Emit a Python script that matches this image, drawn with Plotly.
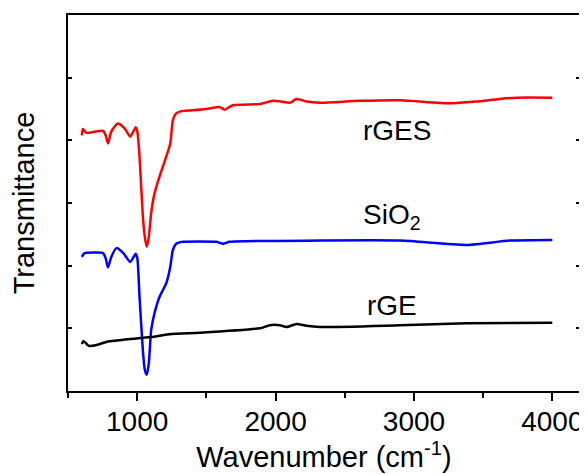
import plotly.graph_objects as go

# Wavenumber (cm^-1) and relative transmittance (offset, arbitrary units)
rges_wn = [600, 608, 632, 700, 753, 772, 789, 813, 861, 909, 950, 989, 1001, 1017, 1041, 1055, 1069,
           1084, 1101, 1125, 1161, 1210, 1239, 1258, 1282, 1331, 1400, 1500, 1597, 1630, 1691, 1886,
           1980, 2040, 2103, 2151, 2223, 2320, 2600, 2900, 3260, 3450, 3620, 3742, 4000]
rges_t = [4.08, 4.18, 4.12, 4.14, 4.15, 4.08, 3.95, 4.14, 4.27, 4.19, 4.06, 4.21, 4.14, 3.74, 2.78, 2.46, 2.30,
          2.46, 2.84, 3.15, 3.42, 3.74, 3.95, 4.32, 4.43, 4.47, 4.48, 4.50, 4.53, 4.49, 4.56, 4.58,
          4.63, 4.62, 4.60, 4.66, 4.62, 4.60, 4.63, 4.64, 4.59, 4.62, 4.66, 4.68, 4.68]

sio2_wn = [600, 620, 700, 753, 772, 789, 813, 850, 900, 950, 989, 1001, 1017, 1041, 1055, 1069, 1084,
           1101, 1125, 1161, 1210, 1239, 1258, 1282, 1331, 1572, 1620, 1668, 2320, 2900, 3380, 3692, 4000]
sio2_t = [2.14, 2.20, 2.21, 2.20, 2.12, 1.97, 2.14, 2.28, 2.20, 2.06, 2.19, 2.12, 1.50, 0.65, 0.34, 0.26, 0.44,
          0.97, 1.24, 1.50, 1.72, 1.98, 2.25, 2.35, 2.38, 2.38, 2.35, 2.38, 2.40, 2.40, 2.33, 2.40, 2.41]

rge_wn = [600, 612, 650, 700, 789, 909, 1101, 1246, 1452, 1886, 1958, 2030, 2080, 2151, 2223, 2320,
          2900, 3380, 4000]
rge_t = [0.75, 0.80, 0.72, 0.73, 0.79, 0.82, 0.86, 0.91, 0.93, 1.00, 1.05, 1.05, 1.02, 1.07, 1.04, 1.02,
         1.05, 1.08, 1.09]

labels = ["rGES", "SiO<sub>2</sub>", "rGE"]
label_x = [2876, 2844, 2844]
label_y = [4.16, 2.78, 1.36]

FONT = "Arial, Liberation Sans, sans-serif"

fig = go.Figure()
for wn, t, col in [(rges_wn, rges_t, "#ff0000"), (sio2_wn, sio2_t, "#0000ff"), (rge_wn, rge_t, "#000000")]:
    fig.add_trace(go.Scatter(x=wn, y=t, mode="lines",
                             line=dict(color=col, width=2.5, shape="spline", smoothing=0.6),
                             showlegend=False))

for txt, lx, ly in zip(labels, label_x, label_y):
    fig.add_annotation(x=lx, y=ly, xref="x", yref="y", text=txt, showarrow=False,
                       font=dict(family=FONT, size=28, color="black"),
                       xanchor="center", yanchor="middle")

# the page body adds an 8px offset; size/margins compensate for it
fig.update_layout(
    width=579, height=466,
    margin=dict(l=60, r=7, t=7, b=83),
    paper_bgcolor="white", plot_bgcolor="white",
    font=dict(family=FONT, color="black"),
)
fig.update_xaxes(
    range=[500, 4200], tick0=0, dtick=1000, automargin=False,
    ticks="outside", ticklen=8, tickwidth=2, tickcolor="black",
    minor=dict(dtick=500, ticks="outside", ticklen=5, tickwidth=2, tickcolor="black"),
    showline=True, linecolor="black", linewidth=2, mirror=True,
    showgrid=False, zeroline=False, ticklabelstandoff=-4,
    tickfont=dict(size=28, family=FONT),
    title=dict(text="Wavenumber (cm<sup>-1</sup>)", font=dict(size=29, family=FONT), standoff=4),
)
fig.update_yaxes(
    range=[0, 6], tick0=0, dtick=1, automargin=False,
    ticks="inside", ticklen=4, tickwidth=2, tickcolor="black",
    showticklabels=False,
    showline=True, linecolor="black", linewidth=2, mirror="ticks",
    showgrid=False, zeroline=False,
    title=dict(text="Transmittance", font=dict(size=29, family=FONT), standoff=24),
)

fig.write_html("out.html")
